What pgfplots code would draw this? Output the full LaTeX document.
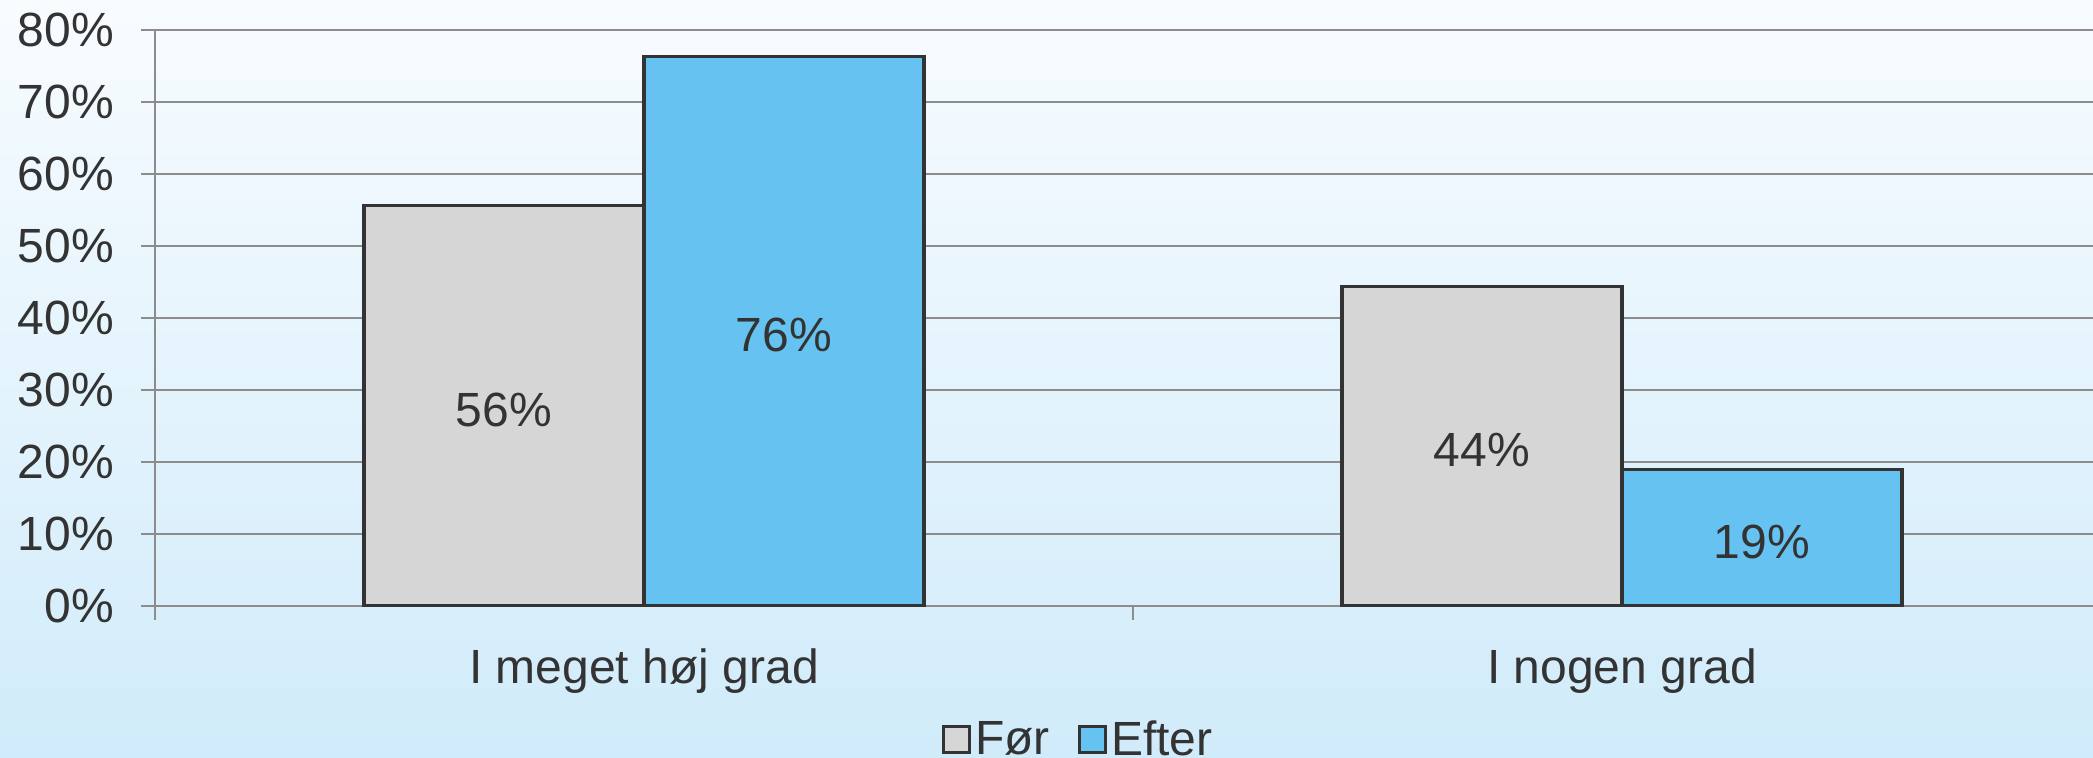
\documentclass[border=0pt]{standalone}
\usepackage{pgfplots}
\pgfplotsset{compat=1.18}
\usepackage{fontspec}
\setmainfont{Liberation Sans}
\definecolor{txt}{HTML}{333333}
\definecolor{gridc}{HTML}{8C8C8C}
\definecolor{barg}{HTML}{D6D6D6}
\definecolor{barb}{HTML}{66C2F0}
\definecolor{edge}{HTML}{333333}
\definecolor{bgtop}{HTML}{F8FCFF}
\definecolor{bgbot}{HTML}{D0EBFA}
\newcommand{\chartfont}{\fontsize{24}{28}\selectfont}
\begin{document}
\begin{tikzpicture}
\useasboundingbox (0,0) rectangle (1046.5pt,378.5pt);
\shade[top color=bgtop,bottom color=bgbot] (0,0) rectangle (1046.5pt,378.5pt);
\begin{axis}[
  at={(77.5pt,75.5pt)}, anchor=south west,
  scale only axis, width=969pt, height=288pt,
  xmin=-0.5, xmax=1.4816, ymin=0, ymax=80,
  ybar=0pt, bar width=140pt,
  axis lines=left,
  axis line style={draw=gridc, line width=1pt, -},
  /pgf/number format/assume math mode=true,
  tick align=outside,
  major tick length=7pt,
  every tick label/.append style={font=\chartfont, text=txt},
  ytick={0,10,...,80},
  yticklabel={\pgfmathprintnumber{\tick}\%},
  yticklabel style={xshift=-10pt},
  ytick style={draw=gridc, line width=1pt},
  ymajorgrids,
  grid style={draw=gridc, line width=1pt},
  xtick={0,1},
  xticklabels={I meget høj grad, I nogen grad},
  xticklabel style={yshift=-11pt},
  xtick style={draw=none},
  extra x ticks={-0.5,0.5},
  extra x tick labels={},
  extra x tick style={xtick style={draw=gridc, line width=1pt}, grid=none},
  nodes near coords={\pgfmathprintnumber[fixed,precision=0]{\pgfplotspointmeta}\%},
  visualization depends on={y \as \rawy},
  every node near coord/.append style={font=\chartfont, text=txt, anchor=center,
     shift={(axis direction cs:0,-\rawy/2)}, yshift=-2pt},
  legend style={at={(0.4768,-0.232)}, anchor=center, draw=none, fill=none,
     legend columns=2, font=\chartfont, text=txt,
     /tikz/every even column/.append style={column sep=12pt}},
  legend image code/.code={\draw[#1,line width=1.7pt,draw=edge] (0pt,-6.5pt) rectangle (13pt,6.5pt);},
]
\addplot[fill=barg, draw=edge, line width=1.7pt] coordinates {(0,55.6) (1,44.4)};
\addplot[fill=barb, draw=edge, line width=1.7pt] coordinates {(0,76.3) (1,19.0)};
\legend{Før, Efter}
\end{axis}
\end{tikzpicture}
\end{document}
